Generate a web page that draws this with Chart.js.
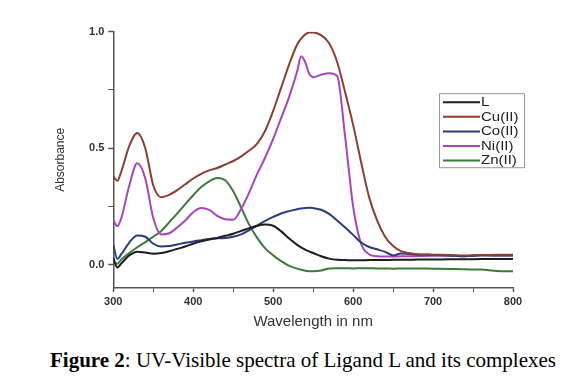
<!DOCTYPE html>
<html>
<head>
<meta charset="utf-8">
<script src="https://cdn.jsdelivr.net/npm/chart.js@4/dist/chart.umd.min.js"></script>
<style>
  html, body { margin: 0; padding: 0; background: #fff; }
  body { width: 568px; height: 390px; position: relative; overflow: hidden; }
  #wrap { position: absolute; left: 0; top: 0; width: 568px; height: 331px; }
  #caption {
    position: absolute; left: 50px; top: 350px; white-space: nowrap;
    font-family: "Liberation Serif", "Times New Roman", serif; font-size: 21px; line-height: 1; color: #000;
  }
</style>
</head>
<body>
<div id="wrap"><canvas id="uvChart"></canvas></div>
<div id="caption"><b>Figure 2</b>: UV-Visible spectra of Ligand L and its complexes</div>
<script>
/* UV-Vis spectra of ligand L and its metal complexes. */

const wavelength = [300, 305, 310, 320, 330, 340, 350, 360, 370, 380, 390, 400, 410, 420, 430, 440,
  450, 460, 470, 480, 490, 500, 510, 520, 530, 535, 540, 545, 550, 560, 570, 580, 590, 600, 610, 620,
  630, 640, 650, 660, 670, 680, 700, 720, 740, 760, 780, 800];

const absL = [0.030, -0.012, 0.005, 0.040, 0.056, 0.052, 0.047, 0.050, 0.058, 0.068, 0.078, 0.090,
  0.100, 0.108, 0.115, 0.124, 0.133, 0.145, 0.157, 0.167, 0.172, 0.167, 0.143, 0.112, 0.085, 0.074,
  0.065, 0.057, 0.050, 0.036, 0.026, 0.021, 0.020, 0.019, 0.019, 0.020, 0.020, 0.020, 0.021, 0.021,
  0.021, 0.022, 0.022, 0.023, 0.023, 0.024, 0.024, 0.025];

const absCu = [0.380, 0.360, 0.400, 0.510, 0.565, 0.500, 0.340, 0.290, 0.300, 0.320, 0.345, 0.370,
  0.390, 0.405, 0.415, 0.430, 0.445, 0.465, 0.490, 0.520, 0.575, 0.660, 0.760, 0.860, 0.945, 0.970,
  0.988, 0.997, 0.997, 0.985, 0.950, 0.870, 0.740, 0.600, 0.440, 0.290, 0.190, 0.120, 0.080, 0.058,
  0.050, 0.045, 0.043, 0.042, 0.040, 0.042, 0.043, 0.043];

const absCo = [0.085, 0.025, 0.045, 0.095, 0.125, 0.120, 0.090, 0.078, 0.080, 0.087, 0.094, 0.100,
  0.105, 0.110, 0.113, 0.115, 0.120, 0.130, 0.148, 0.168, 0.188, 0.205, 0.220, 0.230, 0.238, 0.241,
  0.243, 0.244, 0.243, 0.236, 0.218, 0.190, 0.160, 0.128, 0.095, 0.076, 0.066, 0.055, 0.040, 0.048,
  0.046, 0.044, 0.042, 0.040, 0.036, 0.040, 0.040, 0.040];

const absNi = [0.190, 0.165, 0.200, 0.340, 0.435, 0.370, 0.200, 0.130, 0.135, 0.160, 0.190, 0.225,
  0.243, 0.235, 0.210, 0.195, 0.193, 0.240, 0.310, 0.390, 0.460, 0.540, 0.630, 0.720, 0.830, 0.895,
  0.870, 0.820, 0.805, 0.815, 0.822, 0.810, 0.550, 0.250, 0.090, 0.045, 0.036, 0.035, 0.035, 0.036,
  0.036, 0.037, 0.038, 0.038, 0.036, 0.042, 0.040, 0.040];

const absZn = [0.012, 0.004, 0.022, 0.050, 0.075, 0.097, 0.120, 0.145, 0.182, 0.220, 0.260, 0.298,
  0.333, 0.358, 0.372, 0.362, 0.315, 0.245, 0.172, 0.115, 0.070, 0.040, 0.015, -0.005, -0.017, -0.022,
  -0.026, -0.028, -0.028, -0.025, -0.016, -0.015, -0.015, -0.016, -0.015, -0.015, -0.016, -0.016,
  -0.017, -0.016, -0.016, -0.016, -0.017, -0.018, -0.020, -0.021, -0.027, -0.028];

const seriesLabels = ["L", "Cu(II)", "Co(II)", "Ni(II)", "Zn(II)"];
const xTicks = [300, 350, 400, 450, 500, 550, 600, 650, 700, 750, 800];
const yTicks = [0, 0.25, 0.5, 0.75, 1.0];

const COLORS = ["#1c1c1c", "#8a3f2f", "#2b3c7c", "#a844bc", "#3c7a3a"];
const AXIS = "#555";
const SANS = "Liberation Sans, Arial, sans-serif";
const TICK_FONT = { family: SANS, size: 11, weight: "bold" };

function pts(vals) { return vals.map((v, i) => ({ x: wavelength[i], y: v })); }

// legend box drawn inside the plot, upper right like the original figure
const boxLegend = {
  id: "boxLegend",
  afterDraw(chart) {
    const { ctx, chartArea } = chart;
    const left = chartArea.right - 74, top = chartArea.top + 61.5, w = 85, h = 74, row = 14.6;
    ctx.save();
    ctx.fillStyle = "#fff";
    ctx.fillRect(left, top, w, h);
    ctx.strokeStyle = "#999"; ctx.lineWidth = 1;
    ctx.strokeRect(left + 0.5, top + 0.5, w, h);
    ctx.font = "12px " + SANS;
    ctx.textBaseline = "middle";
    chart.data.datasets.forEach((ds, i) => {
      const y = top + 9 + i * row;
      ctx.strokeStyle = ds.borderColor; ctx.lineWidth = 2;
      ctx.beginPath(); ctx.moveTo(left + 4, y); ctx.lineTo(left + 41, y); ctx.stroke();
      ctx.fillStyle = "#222";
      // the original lettering is a little stretched sideways
      ctx.save();
      ctx.translate(left + 42, y + 0.5);
      ctx.scale(1.25, 1);
      ctx.fillText(ds.label, 0, 0);
      ctx.restore();
    });
    ctx.restore();
  },
};

new Chart(document.getElementById("uvChart"), {
  type: "line",
  data: {
    datasets: [absL, absCu, absCo, absNi, absZn].map((vals, i) => ({
      label: seriesLabels[i],
      data: pts(vals),
      borderColor: COLORS[i],
      borderWidth: 2,
      pointRadius: 0,
      cubicInterpolationMode: "monotone",
      fill: false,
    })),
  },
  options: {
    responsive: true,
    maintainAspectRatio: false,
    animation: false,
    layout: { padding: { left: 0, top: 31.7, right: 55, bottom: 0 } },
    plugins: { legend: { display: false }, tooltip: { enabled: false } },
    scales: {
      x: {
        type: "linear", min: 300, max: 800,
        afterBuildTicks: s => { s.ticks = xTicks.map(v => ({ value: v })); },
        afterFit: s => { s.height = 43; },
        border: { display: true, color: AXIS, width: 1.5 },
        grid: { drawOnChartArea: false, drawTicks: true, tickLength: 4, tickColor: AXIS,
                tickWidth: c => (c.tick && c.tick.value % 100 === 0 ? 1.5 : 1) },
        ticks: { color: "#333", font: TICK_FONT, padding: 3, maxRotation: 0,
                 callback: v => (v % 100 === 0 ? String(v) : "") },
        title: { display: true, text: "Wavelength in nm", color: "#333",
                 font: { family: SANS, size: 15 }, padding: { top: 0, bottom: 0 } },
      },
      y: {
        type: "linear", min: -0.1, max: 1.0,
        afterBuildTicks: s => { s.ticks = yTicks.map(v => ({ value: v })); },
        afterFit: s => { s.width = 113.3; },
        border: { display: true, color: AXIS, width: 1.5 },
        grid: { drawOnChartArea: false, drawTicks: true, tickLength: 5, tickColor: AXIS,
                tickWidth: c => (c.tick && c.tick.value % 0.5 === 0 ? 1.5 : 1) },
        ticks: { color: "#333", font: TICK_FONT, padding: 4,
                 callback: v => (v % 0.5 === 0 ? v.toFixed(1) : "") },
        title: { display: true, text: "Absorbance", color: "#333",
                 font: { family: SANS, size: 12 }, padding: { top: 53 } },
      },
    },
  },
  plugins: [boxLegend],
});
</script>
</body>
</html>
